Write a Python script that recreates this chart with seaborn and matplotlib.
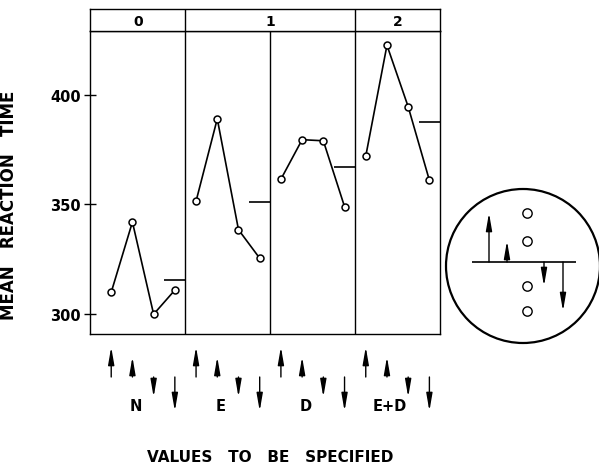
import numpy as np
import pandas as pd
import matplotlib
matplotlib.use('Agg')
import matplotlib.pyplot as plt
import seaborn as sns
from matplotlib.patches import Circle

sns.set_style('white')
plt.rcParams['font.family'] = ['DejaVu Sans']
plt.rcParams['text.color'] = 'black'
plt.rcParams['ytick.color'] = 'black'
plt.rcParams['axes.labelcolor'] = 'black'

# Values
conditions = ['N', 'E', 'D', 'E+D']
n_values = [310, 342, 300, 311]
e_values = [351.5, 389, 338.5, 325.5]
d_values = [361.5, 379.5, 379, 349]
ed_values = [372, 422.5, 394.5, 361]
header_labels = ['0', '1', '2']
header_spans = [1, 2, 1]          # number of condition panels under each header
y_ticks = [300, 350, 400]
arrow_sizes = [3.0, 2.0, -2.0, -3.4]      # the four values to be specified
inset_levels = [2.45, 1.05, -1.2, -2.45]  # schematic in the circle

# Long table for seaborn
rows = []
for k, (cond, vals) in enumerate(zip(conditions, [n_values, e_values, d_values, ed_values])):
    for i, v in enumerate(vals):
        rows.append({'cond': cond, 'pos': 4 * k + i + 1, 'rt': v})
df = pd.DataFrame(rows)
means = df.groupby('cond', sort=False)['rt'].mean()

W, H = 599, 477
fig = plt.figure(figsize=(W / 100, H / 100), dpi=100)

def px_axes(x0, y0, x1, y1):
    return fig.add_axes([x0 / W, 1 - y1 / H, (x1 - x0) / W, (y1 - y0) / H])

xlim = (0, 16.5)
arrow_style = dict(arrowstyle='-|>,head_length=0.75,head_width=0.13', color='black',
                   lw=1.0, mutation_scale=14, shrinkA=0, shrinkB=0)

# Main panel
ax = px_axes(90, 32, 440, 335)
sns.lineplot(data=df, x='pos', y='rt', units='cond', estimator=None, color='black',
             lw=1.2, marker='o', markersize=5, markerfacecolor='white',
             markeredgecolor='black', markeredgewidth=1.1, legend=False, ax=ax)
for k, cond in enumerate(conditions):
    ax.hlines(means[cond], 4 * k + 3.5, 4 * k + 4.5, color='black', lw=1.2)
for k in range(1, len(conditions)):
    ax.axvline(4 * k + 0.5, color='black', lw=1.0)
ax.set_xlim(*xlim)
ax.set_ylim(291, 429)
ax.set_xticks([])
ax.set_yticks(y_ticks)
ax.set_yticklabels([str(t) for t in y_ticks], fontweight='bold', fontsize=10.5)
ax.tick_params(axis='y', direction='inout', length=9, width=1, pad=2, left=True)
ax.set_xlabel('')
ax.set_ylabel('')
for s in ax.spines.values():
    s.set_color('black')
    s.set_linewidth(1.0)

# Header strip
hax = px_axes(90, 10, 440, 32)
hax.set_xlim(*xlim)
hax.set_ylim(0, 1)
hax.set_xticks([])
hax.set_yticks([])
start = 0
for lab, span in zip(header_labels, header_spans):
    lo = 0 if start == 0 else 4 * start + 0.5
    hi = 4 * (start + span) + 0.5
    hax.text((lo + hi) / 2, 0.45, lab, ha='center', va='center', fontsize=10, fontweight='bold')
    if start > 0:
        hax.axvline(lo, color='black', lw=1.0)
    start += span
for s in hax.spines.values():
    s.set_color('black')
    s.set_linewidth(1.0)

# Arrows under each condition
aax = px_axes(90, 340, 440, 420)
aax.set_xlim(*xlim)
aax.set_ylim(-4.2, 3.8)
aax.axis('off')
for k, cond in enumerate(conditions):
    for i, a in enumerate(arrow_sizes):
        x = 4 * k + i + 1
        aax.annotate('', xy=(x, a), xytext=(x, 0), arrowprops=arrow_style)
    aax.text(4 * k + 2.15, -2.9, cond, ha='center', va='center', fontsize=10.5, fontweight='bold')

fig.text(270 / W, 1 - 458 / H, 'VALUES   TO   BE   SPECIFIED', ha='center', va='center',
         fontsize=11, fontweight='bold')
fig.text(9.5 / W, 1 - 205 / H, 'MEAN   REACTION   TIME', ha='center', va='center',
         rotation=90, fontsize=12, fontweight='bold')

# Circle schematic
cax = px_axes(440, 180, 599, 355)
cax.set_xlim(-4.15, 3.8)
cax.set_ylim(-4.6, 4.15)
cax.set_aspect('equal')
cax.axis('off')
cax.add_patch(Circle((0, -0.2), 3.85, fill=False, ec='black', lw=1.6, clip_on=False))
cax.hlines(0, -2.55, 2.65, color='black', lw=1.2)
inset_x = [-1.7, -0.8, 1.05, 2.0]
for x, lev in zip(inset_x, inset_levels):
    cax.annotate('', xy=(x, lev), xytext=(x, 0), arrowprops=arrow_style)
sns.scatterplot(x=[0.2] * len(inset_levels), y=inset_levels, s=45, facecolor='white',
                edgecolor='black', linewidth=1.0, ax=cax, legend=False, zorder=3)

fig.savefig('out.png', dpi=100)
